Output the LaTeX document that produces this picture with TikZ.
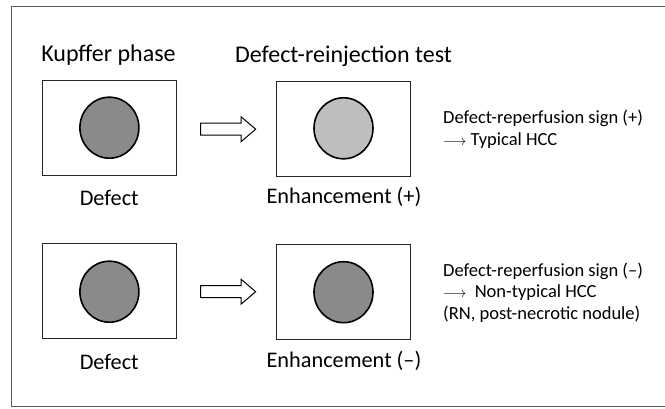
\documentclass[tikz,border=0pt]{standalone}
\usepackage{fontspec}
\setmainfont{Carlito}
\usetikzlibrary{shapes.geometric}
\definecolor{darkdot}{RGB}{138,138,138}
\definecolor{lightdot}{RGB}{190,190,190}
\definecolor{framegray}{RGB}{90,90,90}
\tikzset{
  panel/.style={draw=black!85, line width=0.9pt, minimum width=134pt, minimum height=95pt, inner sep=0pt},
  lesion/.style={draw=black, line width=1.6pt, ellipse, minimum width=59pt, minimum height=61pt, inner sep=0pt},
  heading/.style={font=\fontsize{24}{28}\selectfont, inner sep=0pt},
  caption/.style={font=\fontsize{22.3}{26}\selectfont, inner sep=0pt},
  note/.style={font=\fontsize{18.5}{21.5}\selectfont, inner sep=0pt, align=left, anchor=north west},
  fatarrow/.style={draw=black, line width=1.0pt, fill=white, line join=miter}
}
\newcommand{\longarr}{{\fontsize{15}{15}\selectfont$\longrightarrow$}}
\newcommand{\blockarrow}[2]{%
  \coordinate (#1) at (#2);
  \draw[fatarrow] ([shift={(-27.6,-6)}]#1) -- ([shift={(12.8,-6)}]#1) -- ([shift={(12.8,-12.5)}]#1)
    -- ([shift={(27.5,0)}]#1) -- ([shift={(12.8,12.5)}]#1) -- ([shift={(12.8,6)}]#1)
    -- ([shift={(-27.6,6)}]#1) -- cycle;}
\begin{document}
\begin{tikzpicture}[x=1pt,y=-1pt]
\useasboundingbox (0,0) rectangle (665,409);
\draw[framegray, line width=1.0pt] (665,6.5) -- (11,6.5) -- (11,406.5) -- (665,406.5);

\node[heading] (h1) at (108.5,55) {Kupffer phase};
\node[heading] (h2) at (343.5,56) {Defect-reinjection test};

% top row
\node[panel] (b1) at (109.2,128.3) {};
\node[panel] (b2) at (343.7,128.6) {};
\node[lesion, fill=darkdot] (c1) at (109.4,127.7) {};
\node[lesion, fill=lightdot] (c2) at (343.5,128.3) {};
\blockarrow{a1}{228.2,129.2}
\node[caption] (l1) at (109.2,197.5) {Defect};
\node[caption] (l2) at (344,196.5) {Enhancement (+)};
\node[note] (n1) at (443,110) {Defect-reperfusion sign (+)\\\longarr\ Typical HCC};

% bottom row
\node[panel] (b3) at (109.2,291.2) {};
\node[panel] (b4) at (343.7,292) {};
\node[lesion, fill=darkdot] (c3) at (109.4,291.7) {};
\node[lesion, fill=darkdot] (c4) at (343.5,292.2) {};
\blockarrow{a2}{228.2,291.7}
\node[caption] (l3) at (109.2,361.5) {Defect};
\node[caption] (l4) at (344,361) {Enhancement (--)};
\node[note] (n2) at (443,262.5) {Defect-reperfusion sign (--)\\\longarr\ \ Non-typical HCC\\(RN, post-necrotic nodule)};
\end{tikzpicture}
\end{document}
